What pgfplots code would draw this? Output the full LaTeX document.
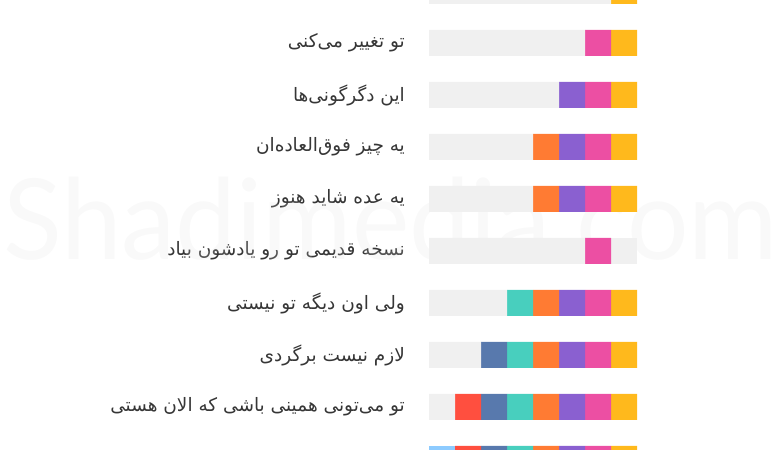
\documentclass[border=0pt]{standalone}
\usepackage{pgfplots}
\pgfplotsset{compat=1.18}
\usepackage{pgfplotstable}
\usepackage{fontspec}
\setmainfont{DejaVu Sans}
\newfontfamily\arabicfont[Script=Arabic]{DejaVu Sans}
\newfontfamily\wmfont{Lato}
\TeXXeTstate=1
\definecolor{cgrey}{HTML}{F0F0F0}
\definecolor{clb}{HTML}{8DCBFF}
\definecolor{cred}{HTML}{FF4F3F}
\definecolor{cblue}{HTML}{5879AD}
\definecolor{cteal}{HTML}{48CFBE}
\definecolor{corange}{HTML}{FF7B33}
\definecolor{cpurple}{HTML}{8A60D0}
\definecolor{cpink}{HTML}{EC4FA3}
\definecolor{cyellow}{HTML}{FFB91C}
\definecolor{ctext}{HTML}{363636}
\tikzset{lbl/.style={anchor=east, text=ctext, inner sep=0pt, font=\arabicfont\fontsize{18.5}{22}\selectfont},
  wm/.style={anchor=base west, inner sep=0pt, xscale=0.97, font=\wmfont\fontsize{112}{112}\selectfont}}

\pgfplotstableread{
y lead lb red blue teal orange purple pink yellow trail
0 7 0 0 0 0 0 0 0 1 0
-1 6 0 0 0 0 0 0 1 1 0
-2 5 0 0 0 0 0 1 1 1 0
-3 4 0 0 0 0 1 1 1 1 0
-4 4 0 0 0 0 1 1 1 1 0
-5 6 0 0 0 0 0 0 1 0 1
-6 3 0 0 0 1 1 1 1 1 0
-7 2 0 0 1 1 1 1 1 1 0
-8 1 0 1 1 1 1 1 1 1 0
-9 0 1 1 1 1 1 1 1 1 0
}\rows

\begin{document}
\begin{tikzpicture}
\useasboundingbox (0,0) rectangle (780pt,450pt);
\clip (0,0) rectangle (780pt,450pt);
\node[wm, text=black!2.5] at (3pt,190pt) {Shadimedia.com};
\begin{axis}[at={(0,0)}, anchor=south west, scale only axis,
  width=780pt, height=450pt,
  xmin=-16.5, xmax=13.5, ymin=-8.8269, ymax=-0.1731,
  hide axis, xbar stacked, bar width=26pt, clip=true]
\addplot[fill=cgrey, draw=none] table[x=lead,y=y]{\rows};
\addplot[fill=clb, draw=none] table[x=lb,y=y]{\rows};
\addplot[fill=cred, draw=none] table[x=red,y=y]{\rows};
\addplot[fill=cblue, draw=none] table[x=blue,y=y]{\rows};
\addplot[fill=cteal, draw=none] table[x=teal,y=y]{\rows};
\addplot[fill=corange, draw=none] table[x=orange,y=y]{\rows};
\addplot[fill=cpurple, draw=none] table[x=purple,y=y]{\rows};
\addplot[fill=cpink, draw=none] table[x=pink,y=y]{\rows};
\addplot[fill=cyellow, draw=none] table[x=yellow,y=y]{\rows};
\addplot[fill=cgrey, draw=none] table[x=trail,y=y]{\rows};
\node[wm, text=white, opacity=0.15] at (axis cs:-16.385,-5.173) {Shadimedia.com};
\node[lbl] at (axis cs:-0.92,-1) {\beginR تو تغییر می‌کنی\endR};
\node[lbl] at (axis cs:-0.92,-2) {\beginR این دگرگونی‌ها\endR};
\node[lbl] at (axis cs:-0.92,-3) {\beginR یه چیز فوق‌العاده‌ان\endR};
\node[lbl] at (axis cs:-0.92,-4) {\beginR یه عده شاید هنوز\endR};
\node[lbl] at (axis cs:-0.92,-5) {\beginR نسخه قدیمی تو رو یادشون بیاد\endR};
\node[lbl] at (axis cs:-0.92,-6) {\beginR ولی اون دیگه تو نیستی\endR};
\node[lbl] at (axis cs:-0.92,-7) {\beginR لازم نیست برگردی\endR};
\node[lbl] at (axis cs:-0.92,-8) {\beginR تو می‌تونی همینی باشی که الان هستی\endR};
\end{axis}
\end{tikzpicture}
\end{document}
